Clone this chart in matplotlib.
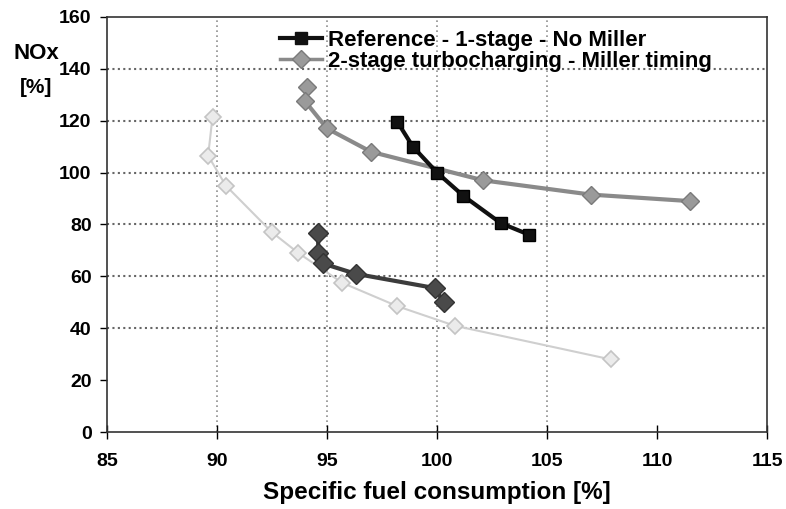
import matplotlib
matplotlib.use("Agg")
import matplotlib.pyplot as plt
from matplotlib.lines import Line2D

plt.rcParams["font.family"] = ["Liberation Sans", "DejaVu Sans"]
plt.rcParams["font.weight"] = "bold"

# reference engine, 1-stage, no Miller
ref_sfc = [98.2, 98.9, 100.0, 101.2, 102.9, 104.2]
ref_nox = [119.5, 110.0, 100.0, 91.0, 80.5, 76.0]

# 2-stage + Miller, upper branch
mil_hi_sfc = [94.1, 94.0, 95.0, 97.0, 102.1, 107.0, 111.5]
mil_hi_nox = [133.0, 127.5, 117.0, 108.0, 97.0, 91.5, 89.0]

# 2-stage + Miller, lower branch
mil_lo_sfc = [94.6, 94.6, 94.8, 96.3, 99.9, 100.3]
mil_lo_nox = [76.8, 69.0, 65.0, 61.0, 55.5, 50.0]

# light grey limit curve
lim_sfc = [89.8, 89.6, 90.4, 92.5, 93.7, 95.7, 98.2, 100.8, 107.9]
lim_nox = [121.5, 106.5, 95.0, 77.0, 69.0, 57.5, 48.5, 41.0, 28.0]

x_ticks = [85, 90, 95, 100, 105, 110, 115]
y_ticks = [0, 20, 40, 60, 80, 100, 120, 140, 160]
x_grid = [90, 95, 100, 105]
y_grid = [40, 60, 80, 100, 120, 140]

fig = plt.figure(figsize=(7.86, 5.09), dpi=100)
ax = fig.add_axes([0.136, 0.151, 0.840, 0.816])

for gx in x_grid:
    ax.axvline(gx, color="#909090", lw=1.2, ls=(0, (1, 2)), zorder=0)
for gy in y_grid:
    ax.axhline(gy, color="#666666", lw=1.5, ls=(0, (1, 1.6)), zorder=0)

ax.plot(lim_sfc, lim_nox, color="#cfcfcf", lw=1.5, marker="D", ms=8,
        mfc="#ebebeb", mec="#c4c4c4", mew=1.2, zorder=2)
ax.plot(mil_hi_sfc, mil_hi_nox, color="#8a8a8a", lw=3, marker="D", ms=9,
        mfc="#9a9a9a", mec="#7a7a7a", mew=1, zorder=3)
ax.plot(mil_lo_sfc, mil_lo_nox, color="#3c3c3c", lw=3, marker="D", ms=10,
        mfc="#4a4a4a", mec="#333333", mew=1, zorder=3)
ax.plot(ref_sfc, ref_nox, color="#111111", lw=3, marker="s", ms=9,
        mfc="#111111", mec="#000000", zorder=4)

ax.set_xlim(85, 115)
ax.set_ylim(0, 160)
ax.set_xticks(x_ticks)
ax.set_yticks(y_ticks)
ax.tick_params(axis="y", direction="out", length=5, width=1, labelsize=14, pad=6)
ax.tick_params(axis="x", direction="inout", length=10, width=1, labelsize=14, pad=10)
for lbl in ax.get_xticklabels() + ax.get_yticklabels():
    lbl.set_fontweight("bold")
for sp in ax.spines.values():
    sp.set_color("#333333")
    sp.set_linewidth(1.2)

ax.set_xlabel("Specific fuel consumption [%]", fontsize=17.5, fontweight="bold", labelpad=8)
fig.text(0.046, 0.895, "NOx", ha="center", va="center", fontsize=16, fontweight="bold")
fig.text(0.046, 0.828, "[%]", ha="center", va="center", fontsize=15, fontweight="bold")

handles = [
    Line2D([], [], color="#111111", lw=3, marker="s", ms=8, mfc="#111111"),
    Line2D([], [], color="#8a8a8a", lw=2.5, marker="D", ms=9, mfc="#9a9a9a", mec="#7a7a7a"),
]
labels = ["Reference - 1-stage - No Miller", "2-stage turbocharging - Miller timing"]
ax.legend(handles, labels, loc="upper left", bbox_to_anchor=(0.262, 0.968),
          frameon=False, prop={"weight": "bold", "size": 16},
          handlelength=1.9, handletextpad=0.25, labelspacing=-0.02, borderpad=0,
          borderaxespad=0)

fig.savefig("out.png", dpi=100)
